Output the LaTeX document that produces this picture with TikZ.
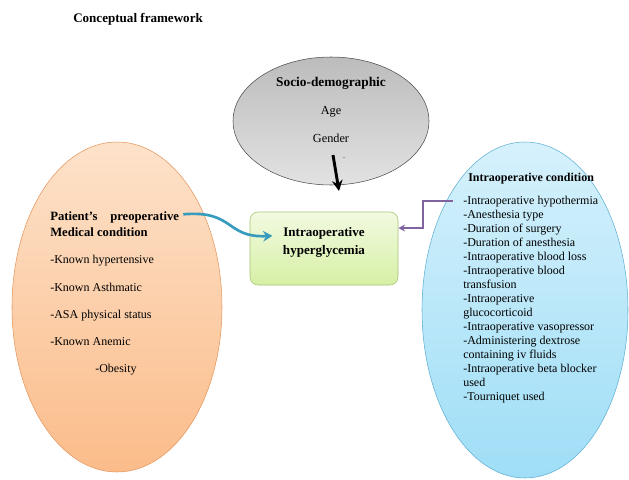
\documentclass[tikz,border=0pt]{standalone}
\usepackage{fontspec}
\setmainfont{Liberation Serif}
\usetikzlibrary{shapes.geometric,arrows.meta}

\definecolor{peachTop}{RGB}{253,226,202}
\definecolor{peachBot}{RGB}{251,188,138}
\definecolor{peachLine}{RGB}{228,150,92}
\definecolor{skyTop}{RGB}{214,241,252}
\definecolor{skyBot}{RGB}{158,222,246}
\definecolor{skyLine}{RGB}{95,175,212}
\definecolor{greyTop}{RGB}{188,188,188}
\definecolor{greyBot}{RGB}{226,226,226}
\definecolor{limeTop}{RGB}{242,250,225}
\definecolor{limeBot}{RGB}{214,240,165}
\definecolor{limeLine}{RGB}{165,195,115}
\definecolor{tealArr}{RGB}{55,155,190}
\definecolor{violetArr}{RGB}{128,100,162}

\begin{document}
\begin{tikzpicture}[x=0.75pt,y=-0.75pt]

\tikzset{
  BubbleStyle/.style = { ellipse, inner sep=0pt },
  HeadStyle/.style = { font = \bfseries\fontsize{9.5}{11}\selectfont,
                       inner sep=0pt, anchor=base west },
  ItemStyle/.style = { font = \fontsize{9}{10.5}\selectfont,
                       inner sep=0pt, anchor=base west } }
  \useasboundingbox (0,0) rectangle (629,479);

  % title
  \node[HeadStyle, font=\bfseries\fontsize{9.8}{11}\selectfont] (title) at (73,22) {Conceptual framework};

  % the three bubbles and the outcome box
  \node[BubbleStyle, draw=peachLine, top color=peachTop, bottom color=peachBot,
        minimum width=157.5pt, minimum height=247.5pt] (preop) at (117,307) {};
  \node[BubbleStyle, draw=skyLine, top color=skyTop, bottom color=skyBot,
        minimum width=154.5pt, minimum height=252pt] (intraop) at (525,310) {};
  \node[BubbleStyle, draw=black!70, top color=greyTop, bottom color=greyBot,
        minimum width=147pt, minimum height=96pt] (socio) at (331,121) {};
  \node[draw=limeLine, rounded corners=6pt, top color=limeTop, bottom color=limeBot,
        minimum width=111pt, minimum height=54.75pt] (hyper) at (324,248.5) {};
  \node[align=center, inner sep=0pt, font=\bfseries\fontsize{9.8}{13.5}\selectfont]
        (hypertext) at (324,242) {Intraoperative\\hyperglycemia};

  % socio-demographic text
  \node[font=\bfseries\fontsize{10}{12}\selectfont, inner sep=0pt] (sociohead) at (331,83) {Socio-demographic};
  \node[font=\fontsize{9.2}{11}\selectfont, inner sep=0pt] (age) at (331,112) {Age};
  \node[font=\fontsize{9.2}{11}\selectfont, inner sep=0pt] (gender) at (331,138) {Gender};
  \node[font=\fontsize{6}{7}\selectfont, inner sep=0pt] (dot) at (344,158) {.};

  % preoperative text
  \node[HeadStyle] (pre1) at (50,220) {Patient’s\quad preoperative};
  \node[HeadStyle] (pre2) at (50,236) {Medical condition};
  \node[ItemStyle] (pa) at (50,263) {-Known hypertensive};
  \node[ItemStyle] (pb) at (50,291) {-Known Asthmatic};
  \node[ItemStyle] (pc) at (50,318) {-ASA physical status};
  \node[ItemStyle] (pd) at (50,345) {-Known Anemic};
  \node[ItemStyle] (pe) at (95,372) {-Obesity};

  % intraoperative text
  \node[HeadStyle, font=\bfseries\fontsize{9}{11}\selectfont] (inhead) at (468,181) {Intraoperative condition};
  \foreach \txt [count=\i from 0] in {-Intraoperative hypothermia, -Anesthesia type,
      -Duration of surgery, -Duration of anesthesia, -Intraoperative blood loss,
      -Intraoperative blood, transfusion, -Intraoperative, glucocorticoid,
      -Intraoperative vasopressor, -Administering dextrose, containing iv fluids,
      -Intraoperative beta blocker, used, -Tourniquet used}
    \node[ItemStyle] (in\i) at (463,{204+14*\i}) {\txt};

  % connectors
  \coordinate (dstart) at (333,155);
  \coordinate (dtip) at (339,191);
  \draw[line width=2.2pt, -{Stealth[length=8pt,width=8pt]}] (dstart) -- (dtip);

  \draw[tealArr, line width=2pt, -{Stealth[length=7pt,width=8pt]}]
    ([xshift=3pt,yshift=2pt]pre1.east) .. controls (235,210) and (225,238) .. ([xshift=17pt,yshift=9.5pt]hyper.west);

  \coordinate (vstart) at (453,201);
  \coordinate (vbend) at (423,228);
  \draw[violetArr, line width=1.1pt, -{Stealth[length=5pt,width=5pt]}]
    (vstart) -| (vbend) -- (vbend -| hyper.east);

\end{tikzpicture}
\end{document}
